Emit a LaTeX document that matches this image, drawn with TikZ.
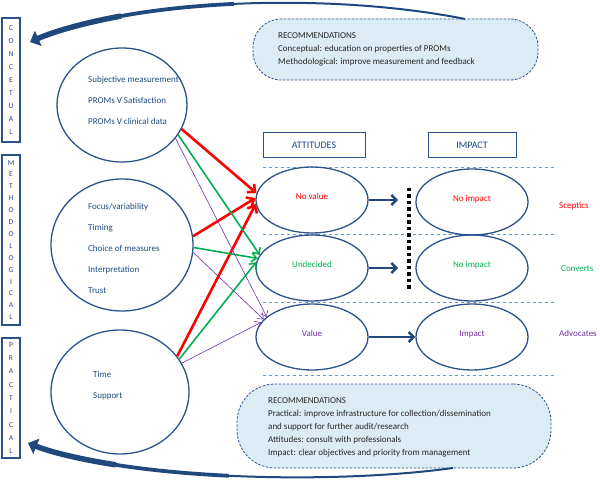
\documentclass[tikz,border=0pt]{standalone}
\usepackage{fontspec}
\setmainfont{Carlito}
\usetikzlibrary{arrows.meta,shapes}
\definecolor{navy}{RGB}{44,82,140}
\definecolor{darknavy}{RGB}{31,73,125}
\definecolor{recfill}{RGB}{219,236,244}
\definecolor{dashblue}{RGB}{91,155,213}
\definecolor{attred}{RGB}{255,0,0}
\definecolor{attgreen}{RGB}{0,176,80}
\definecolor{attpurple}{RGB}{112,48,160}
\tikzstyle{sidebox}=[draw=navy,line width=1.2pt,minimum width=18pt,inner sep=0pt,text=darknavy,align=center]
\tikzstyle{theme}=[ellipse,draw=navy,line width=1.3pt,inner sep=0pt]
\tikzstyle{themetext}=[anchor=west,inner sep=0pt,align=left,text=darknavy,font=\fontsize{9}{21}\selectfont]
\tikzstyle{headbox}=[draw=navy,line width=1pt,minimum height=25pt,text=darknavy,font=\fontsize{10}{12}\selectfont]
\tikzstyle{stage}=[ellipse,draw=navy,line width=1.3pt,minimum width=112pt,minimum height=66pt,inner sep=0pt,text depth=7pt,font=\fontsize{9}{11}\selectfont]
\tikzstyle{group}=[anchor=west,inner sep=0pt,font=\fontsize{9}{11}\selectfont]
\tikzstyle{rec}=[draw=navy,dash pattern=on 2.5pt off 1.5pt,line width=0.8pt,fill=recfill]
\tikzstyle{rectext}=[anchor=west,inner sep=0pt,align=left,text=black!85,font=\fontsize{9}{13}\selectfont]
\tikzstyle{redarr}=[draw=attred,line width=2.6pt,-{Straight Barb[length=6pt,width=11pt]}]
\tikzstyle{greenarr}=[draw=attgreen,line width=1.6pt,-{Straight Barb[length=5pt,width=9pt]}]
\tikzstyle{purplearr}=[draw=attpurple,line width=0.6pt,-{Straight Barb[length=5pt,width=8pt]}]
\tikzstyle{flow}=[draw=darknavy,line width=2.4pt,-{Straight Barb[length=5pt,width=10pt]}]
\tikzstyle{feedback}=[draw=darknavy]

\begin{document}
\begin{tikzpicture}[x=1pt,y=-1pt]
    \useasboundingbox (0,0) rectangle (600,481);
    % the three levels on the left
    \node[sidebox,minimum height=124pt,font=\fontsize{7.5}{13}\selectfont] (conc) at (11,80) {C\\O\\N\\C\\E\\T\\U\\A\\L};
    \node[sidebox,minimum height=170pt,font=\fontsize{7.5}{11.9}\selectfont] (meth) at (11,240) {M\\E\\T\\H\\O\\D\\O\\L\\O\\G\\I\\C\\A\\L};
    \node[sidebox,minimum height=120pt,font=\fontsize{7.5}{13.3}\selectfont] (prac) at (11,398) {P\\R\\A\\C\\T\\I\\C\\A\\L};
    % themes
    \node[theme,minimum width=130pt,minimum height=114pt] (concept) at (122,105) {};
    \node[theme,minimum width=142pt,minimum height=132pt] (method) at (122,245) {};
    \node[theme,minimum width=138pt,minimum height=124pt] (practice) at (120,392) {};
    \node[themetext] (concepttxt) at (88,100) {Subjective measurement\\PROMs V Satisfaction\\PROMs V clinical data};
    \node[themetext] (methodtxt) at (88,248) {Focus/variability\\Timing\\Choice of measures\\Interpretation\\Trust};
    \node[themetext] (practicetxt) at (93,385.5) {Time\\Support};
    % column headings
    \node[headbox,minimum width=102pt] (attitudes) at (314,145.5) {ATTITUDES};
    \node[headbox,minimum width=88pt] (impacthead) at (472,145.5) {IMPACT};
    % row separators
    \foreach \y in {167,234,302,375}
        \draw[dashblue,dashed,line width=0.5pt] (263,\y) -- (557,\y);
    % attitudes and impact
    \foreach \pos/\name/\col/\txt in {{(312,200)/noval/attred/No value}, {(312,268)/undec/attgreen/Undecided}, {(312,337)/value/attpurple/Value}, {(472,202)/noimpA/attred/No impact}, {(472,268)/noimpB/attgreen/No impact}, {(472,337)/impact/attpurple/Impact}}
        \node[stage,text=\col] (\name) at \pos {\txt};
    \node[group,text=attred] (sceptics) at (559,206) {Sceptics};
    \node[group,text=attgreen] (converts) at (561,269) {Converts};
    \node[group,text=attpurple] (advocates) at (559,333) {Advocates};
    % themes to attitudes
    \foreach \source/\dest/\kind in {concept.-22/noval.173/redarr, method.7/noval.178/redarr, practice.32/noval.184/redarr, concept.-28/undec.166/greenarr, method.-2/undec.170/greenarr, practice.29/undec.174/greenarr, concept.-32/value.156/purplearr, method.-6/value.160/purplearr, practice.25/value.164/purplearr}
        \path[\kind] (\source) -- (\dest);
    % attitudes to impact
    \coordinate (barA) at (398,200);
    \coordinate (barB) at (398,268);
    \path[flow] (noval) -- (barA);
    \path[flow] (undec) -- (barB);
    \path[flow] (value) -- (impact);
    \draw[black,line width=3.5pt,dash pattern=on 3.5pt off 3pt] (409,188) -- (409,290);
    % recommendations
    \node[rec,rounded corners=28pt,minimum width=285pt,minimum height=61pt] (rectop) at (395.5,49.5) {};
    \node[rectext] (rectoptxt) at (278,49) {RECOMMENDATIONS\\Conceptual: education on properties of PROMs\\Methodological: improve measurement and feedback};
    \node[rec,rounded corners=38pt,minimum width=314pt,minimum height=84pt] (recbot) at (394,426) {};
    \node[rectext] (recbottxt) at (268,427.5) {RECOMMENDATIONS\\Practical: improve infrastructure for collection/dissemination\\and support for further audit/research\\Attitudes: consult with professionals\\Impact: clear objectives and priority from management};
    % feedback to the levels, getting thicker towards the head
    \coordinate (fbtop) at (465,19);
    \coordinate (fbtopmid) at (234,3.9);
    \coordinate (fbtopnear) at (121.1,16.05);
    \coordinate (fbtopend) at (30,42);
    \path[feedback,line width=2pt] (fbtop) .. controls (397.5,5.5) and (313.75,0.25) .. (fbtopmid);
    \path[feedback,line width=3.8pt] (fbtopmid) .. controls (194.5,5.7) and (156,9.7) .. (fbtopnear);
    \path[feedback,line width=5.5pt,-{Triangle[length=9pt,width=16pt]}] (fbtopnear) .. controls (86.25,22.4) and (55,31) .. (fbtopend);
    \coordinate (fbbot) at (453,468);
    \coordinate (fbbotmid) at (228.9,475.75);
    \coordinate (fbbotnear) at (115.9,464.85);
    \coordinate (fbbotend) at (28,443);
    \path[feedback,line width=2pt] (fbbot) .. controls (391.5,476.5) and (308.25,479.5) .. (fbbotmid);
    \path[feedback,line width=3.8pt] (fbbotmid) .. controls (189.2,473.9) and (150.5,470.3) .. (fbbotnear);
    \path[feedback,line width=5.5pt,-{Triangle[length=9pt,width=16pt]}] (fbbotnear) .. controls (81.4,459.5) and (51,452.25) .. (fbbotend);
\end{tikzpicture}
\end{document}
